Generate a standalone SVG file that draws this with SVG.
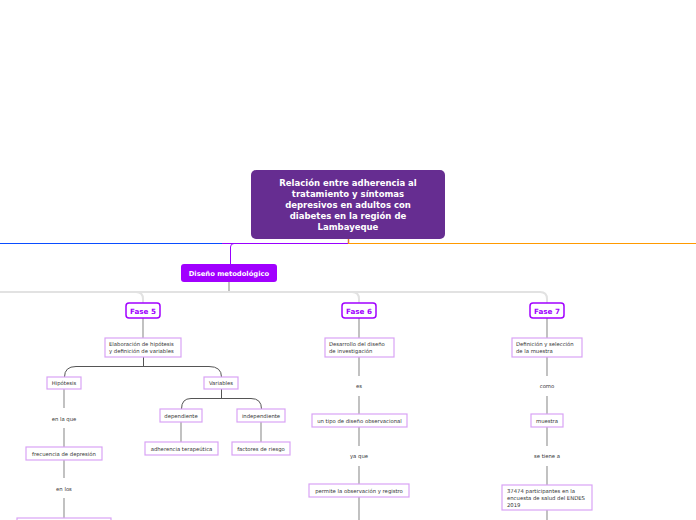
<svg xmlns="http://www.w3.org/2000/svg" width="696" height="520" viewBox="0 0 696 520">
<style>
text{font-family:"DejaVu Sans","Verdana",sans-serif}
.root{fill:#662d91}
.rt{fill:#fff;font-weight:bold;font-size:8.5px;text-anchor:middle}
.sub{fill:#a100ff}
.st{fill:#fff;font-weight:bold;font-size:6.8px;text-anchor:middle}
.fase{fill:#fff;stroke:#a100ff;stroke-width:1.5}
.ft{fill:#a100ff;font-weight:bold;font-size:7.2px;text-anchor:middle}
.box{fill:#fff;stroke:#d9a3f5;stroke-width:1.2}
.t{fill:#333;font-size:5.3px}
.tc{fill:#333;font-size:5.3px;text-anchor:middle}
.c{fill:none;stroke:#999;stroke-width:1.2}
.cd{fill:none;stroke:#555;stroke-width:1}
.cl{fill:none;stroke:#e2e2e2;stroke-width:2}
</style>
<g id="connectors">
<path d="M0,243.5 H222" fill="none" stroke="#0a4dff" stroke-width="1"/>
<path d="M348,243.5 H696" fill="none" stroke="#ff9900" stroke-width="1"/>
<path d="M348,243.5 H234 Q230.5,243.5 230.5,247 V265 M222,243.5 H234" fill="none" stroke="#9900ff" stroke-width="1"/>
<path d="M348.5,239 V243" fill="none" stroke="#e07a30" stroke-width="1.5"/>
<path class="c" d="M229,282 V292"/>
<path class="cl" d="M0,292 H540 Q547,292 547,299 V303 M136,292 Q143,292 143,299 V303 M352,292 Q359,292 359,299 V303"/>
<path class="c" d="M143,318 V338 M359,318 V338 M547,318 V338"/>
<path class="cd" d="M143.5,357 V366.5 M64.5,377 Q64.5,366.5 76,366.5 H209 Q221.5,366.5 221.5,377"/>
<path class="cd" d="M221.5,389 V398.5 M181.5,409 Q181.5,398.5 191,398.5 H251 Q261.5,398.5 261.5,409"/>
<path class="c" d="M181,422 V442 M261,422 V442"/>
<path class="c" d="M64,389 V408 M64,428 V447 M64,460 V478 M64,498 V518"/>
<path class="c" d="M359,357 V376 M359,396 V414 M359,427 V446 M359,466 V484 M359,497 V520"/>
<path class="c" d="M547,357 V376 M547,396 V414 M547,427 V446 M547,466 V485 M547,510 V520"/>
</g>
<g id="root">
<rect class="root" x="251" y="170" width="194" height="69" rx="5"/>
<text class="rt" x="348" y="186">Relación entre adherencia al</text>
<text class="rt" x="348" y="197">tratamiento y síntomas</text>
<text class="rt" x="348" y="208">depresivos en adultos con</text>
<text class="rt" x="348" y="219">diabetes en la región de</text>
<text class="rt" x="348" y="230">Lambayeque</text>
</g>
<g id="diseno">
<rect class="sub" x="181" y="264" width="96" height="18" rx="3"/>
<text class="st" x="229" y="275.5">Diseño metodológico</text>
</g>
<g id="fase5"><rect class="fase" x="126" y="303" width="34" height="15" rx="3"/><text class="ft" x="143" y="313.5">Fase 5</text></g>
<g id="fase6"><rect class="fase" x="342" y="303" width="34" height="15" rx="3"/><text class="ft" x="359" y="313.5">Fase 6</text></g>
<g id="fase7"><rect class="fase" x="530" y="303" width="34" height="15" rx="3"/><text class="ft" x="547" y="313.5">Fase 7</text></g>
<g id="elaboracion"><rect class="box" x="105" y="338" width="76" height="19"/><text class="t" x="109" y="346">Elaboración de hipótesis</text><text class="t" x="109" y="353">y definición de variables</text></g>
<g id="hipotesis"><rect class="box" x="47" y="377" width="34" height="12"/><text class="tc" x="64" y="385">Hipótesis</text></g>
<g id="variables"><rect class="box" x="204" y="377" width="34" height="12"/><text class="tc" x="221" y="385">Variables</text></g>
<g id="dependiente"><rect class="box" x="160" y="409" width="42" height="13"/><text class="tc" x="181" y="417.5">dependiente</text></g>
<g id="independiente"><rect class="box" x="237" y="409" width="48" height="13"/><text class="tc" x="261" y="417.5">independiente</text></g>
<g id="adherencia"><rect class="box" x="145" y="442" width="73" height="13"/><text class="tc" x="181.5" y="450.5">adherencia terapeútica</text></g>
<g id="factores"><rect class="box" x="232" y="442" width="58" height="13"/><text class="tc" x="261" y="450.5">factores de riesgo</text></g>
<g id="enlaque"><text class="tc" x="64" y="421">en la que</text></g>
<g id="frecuencia"><rect class="box" x="26" y="447" width="76" height="13"/><text class="tc" x="64" y="455.5">frecuencia de depresión</text></g>
<g id="enlos"><text class="tc" x="64" y="491">en los</text></g>
<g id="adultos"><rect class="box" x="17" y="518" width="94" height="10"/></g>
<g id="desarrollo"><rect class="box" x="325" y="338" width="69" height="19"/><text class="t" x="329" y="346">Desarrollo del diseño</text><text class="t" x="329" y="353">de investigación</text></g>
<g id="es"><text class="tc" x="359" y="388">es</text></g>
<g id="tipo"><rect class="box" x="312" y="414" width="95" height="13"/><text class="tc" x="359.5" y="422.5">un tipo de diseño observacional</text></g>
<g id="yaque"><text class="tc" x="359" y="458">ya que</text></g>
<g id="permite"><rect class="box" x="309" y="484" width="100" height="13"/><text class="tc" x="359" y="492.5">permite la observación y registro</text></g>
<g id="definicion"><rect class="box" x="512" y="338" width="70" height="19"/><text class="t" x="516" y="346">Definición y selección</text><text class="t" x="516" y="353">de la muestra</text></g>
<g id="como"><text class="tc" x="547" y="388">como</text></g>
<g id="muestra"><rect class="box" x="531" y="414" width="32" height="13"/><text class="tc" x="547" y="422.5">muestra</text></g>
<g id="setiene"><text class="tc" x="547" y="458">se tiene a</text></g>
<g id="participantes"><rect class="box" x="502" y="485" width="90" height="25"/><text class="t" x="507" y="493">37474 participantes en la</text><text class="t" x="507" y="500">encuesta de salud del ENDES</text><text class="t" x="507" y="507">2019</text></g>
</svg>
